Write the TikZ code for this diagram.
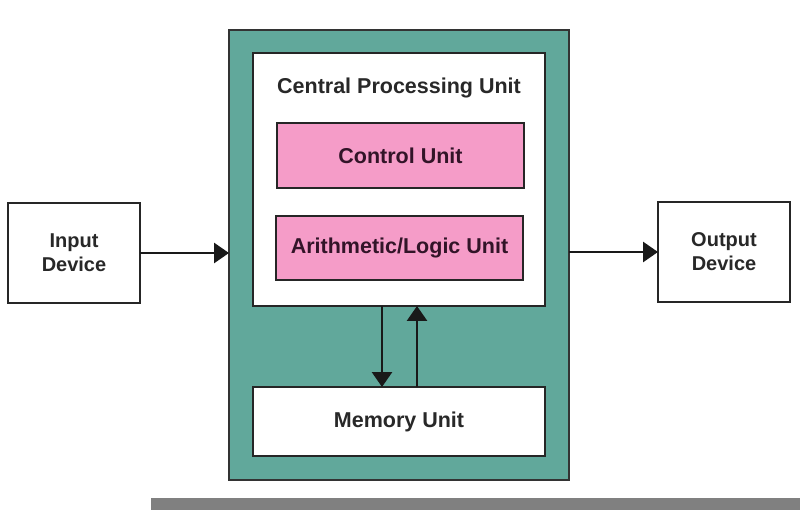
\documentclass[tikz,border=0pt]{standalone}
\usepackage{fontspec}
\setmainfont{Liberation Sans}
\usetikzlibrary{arrows.meta}
\definecolor{tealbg}{RGB}{97,168,155}
\definecolor{pinkbg}{RGB}{245,156,200}
\definecolor{bargray}{RGB}{128,128,128}
\definecolor{txt}{RGB}{40,40,40}
\definecolor{pinktxt}{RGB}{50,20,40}
\begin{document}
\begin{tikzpicture}[x=1pt,y=-1pt,
  box/.style={draw=black!85, line width=2.8pt, inner sep=0pt, outer sep=0pt, align=center},
  lbl/.style={font=\bfseries\fontsize{21.5}{24}\selectfont, text=txt},
  dev/.style={font=\bfseries\fontsize{20}{24}\selectfont, text=txt},
  arr/.style={-{Triangle[length=15pt,width=20pt]}, line width=2.8pt, draw=black!90}]
\useasboundingbox (0,0) rectangle (800,510);
\fill[white] (0,0) rectangle (800,510);
\fill[bargray] (151,498) rectangle (800,510);
\node[box, fill=tealbg, draw=black!80, minimum width=340, minimum height=450] (outer) at (399,255) {};
\node[box, fill=white, minimum width=292, minimum height=253] (cpu) at (399,179.5) {};
\node[lbl] (cpulabel) at (399,88) {Central Processing Unit};
\node[box, fill=pinkbg, minimum width=247, minimum height=65, lbl, text=pinktxt] (cu) at (400.5,155.5) {Control Unit};
\node[box, fill=pinkbg, minimum width=247, minimum height=64, lbl, text=pinktxt] (alu) at (399.5,248) {Arithmetic/Logic Unit};
\node[box, fill=white, minimum width=292, minimum height=69, lbl] (mem) at (399,421.5) {Memory Unit};
\node[box, fill=white, minimum width=132, minimum height=100, dev] (in) at (74,253) {Input\\Device};
\node[box, fill=white, minimum width=132, minimum height=100, dev] (out) at (724,252) {Output\\Device};
\draw[arr] (in.east) -- (in.east -| outer.west);
\draw[arr] (out.west -| outer.east) -- (out.west);
\draw[arr] ([xshift=-17pt]cpu.south) -- ([xshift=-17pt]mem.north);
\draw[arr] ([xshift=18pt]mem.north) -- ([xshift=18pt]cpu.south);
\end{tikzpicture}
\end{document}
